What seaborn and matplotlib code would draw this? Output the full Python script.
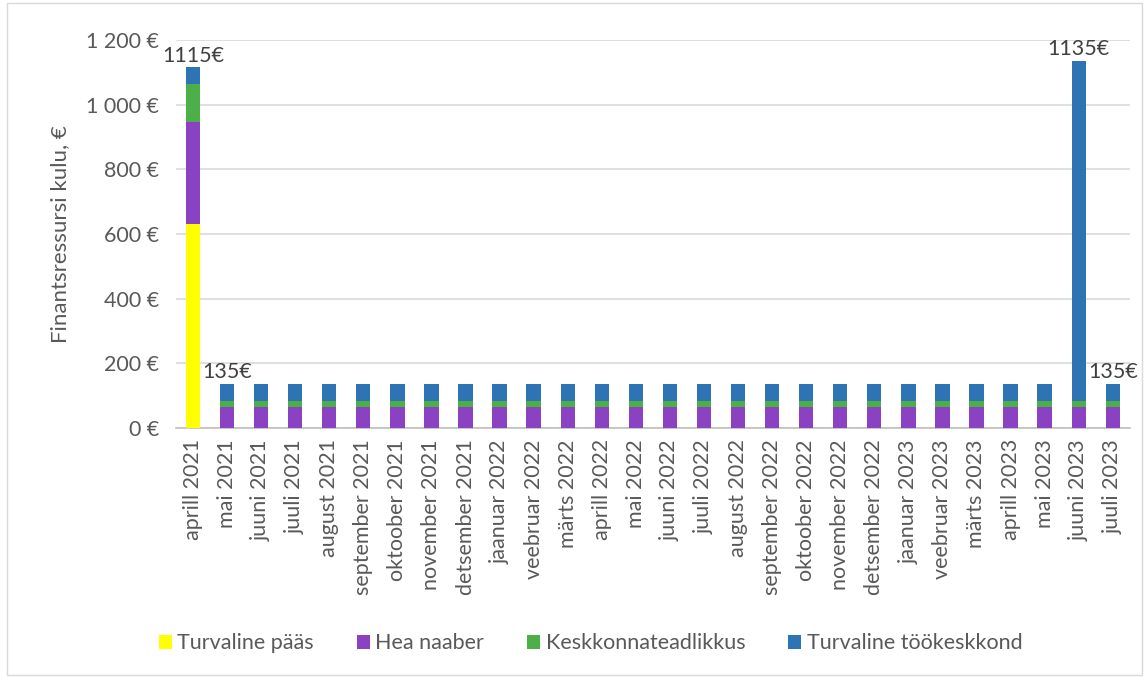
import matplotlib
matplotlib.use("Agg")
import matplotlib.pyplot as plt
from matplotlib.patches import Patch, Rectangle
import numpy as np
import pandas as pd
import seaborn as sns

months = [
    "aprill 2021", "mai 2021", "juuni 2021", "juuli 2021", "august 2021",
    "september 2021", "oktoober 2021", "november 2021", "detsember 2021",
    "jaanuar 2022", "veebruar 2022", "märts 2022", "aprill 2022", "mai 2022",
    "juuni 2022", "juuli 2022", "august 2022", "september 2022",
    "oktoober 2022", "november 2022", "detsember 2022", "jaanuar 2023",
    "veebruar 2023", "märts 2023", "aprill 2023", "mai 2023", "juuni 2023",
    "juuli 2023",
]
turvaline_paas = [630] + [0] * 27
hea_naaber = [315] + [65] * 27
keskkonnateadlikkus = [120] + [20] * 27
turvaline_tookeskkond = [50] + [50] * 25 + [1050, 50]

series_names = ["Turvaline pääs", "Hea naaber", "Keskkonnateadlikkus", "Turvaline töökeskkond"]
series_colors = ["#FFFF00", "#8A41C2", "#4CAF48", "#2E74B5"]
labelled_months = ["aprill 2021", "mai 2021", "juuni 2023", "juuli 2023"]

sns.set_theme(style="white")
plt.rcParams["font.family"] = ["Lato", "DejaVu Sans"]
text_color = "#595959"
fs = 15.5

df = pd.DataFrame({
    "month": months,
    "s1": turvaline_paas,
    "s2": hea_naaber,
    "s3": keskkonnateadlikkus,
    "s4": turvaline_tookeskkond,
})
# cumulative heights, drawn from the tallest (top segment) down
df["c1"] = df["s1"]
df["c2"] = df["c1"] + df["s2"]
df["c3"] = df["c2"] + df["s3"]
df["c4"] = df["c3"] + df["s4"]

fig = plt.figure(figsize=(11.47, 6.78), dpi=100)
ax = fig.add_axes([0.1534, 0.3687, 0.8316, 0.5723])

for col, color in zip(["c4", "c3", "c2", "c1"], series_colors[::-1]):
    sns.barplot(data=df, x="month", y=col, order=months, color=color,
                width=0.42, saturation=1, ax=ax, zorder=3, linewidth=0)

ax.set_ylim(0, 1200)
ax.set_xlim(-0.5, len(months) - 0.5)
yticks = np.arange(0, 1201, 200)
ax.set_yticks(yticks)
ax.set_yticklabels([f"{v:,}".replace(",", " ") + " €" for v in yticks],
                   fontsize=fs, color=text_color)
ax.yaxis.grid(True, color="#D9D9D9", linewidth=1.2, zorder=0)
ax.set_axisbelow(True)

ax.set_xticks(range(len(months)))
ax.set_xticklabels(months, rotation=90, fontsize=fs, color=text_color)
ax.tick_params(axis="x", which="major", length=0, pad=8)
ax.tick_params(axis="y", length=0, pad=12)
ax.set_xticks(np.arange(-0.5, len(months), 1), minor=True)
ax.tick_params(axis="x", which="minor", length=5, color="#BFBFBF", width=1)

for side in ["top", "right", "left"]:
    ax.spines[side].set_visible(False)
ax.spines["bottom"].set_color("#BFBFBF")
ax.spines["bottom"].set_linewidth(1.2)

ax.set_xlabel("")
ax.set_ylabel("Finantsressursi kulu, €", fontsize=16, color=text_color, labelpad=12)

for m in labelled_months:
    i = months.index(m)
    total = int(df.loc[i, "c4"])
    ax.text(i, total + 6, f"{total}€", ha="center", va="bottom",
            fontsize=fs, color="#404040")

handles = [Patch(facecolor=c, edgecolor="none", label=n)
           for n, c in zip(series_names, series_colors)]
fig.legend(handles=handles, loc="center", bbox_to_anchor=(0.515, 0.051),
           ncol=4, frameon=False, fontsize=fs, handlelength=0.6,
           handleheight=0.6, handletextpad=0.25, columnspacing=2.0,
           labelcolor=text_color)

fig.patches.append(Rectangle((0.006, 0.004), 0.99, 0.992, transform=fig.transFigure,
                             fill=False, edgecolor="#D9D9D9", linewidth=1))

fig.savefig("out.png", dpi=100, facecolor="white")
